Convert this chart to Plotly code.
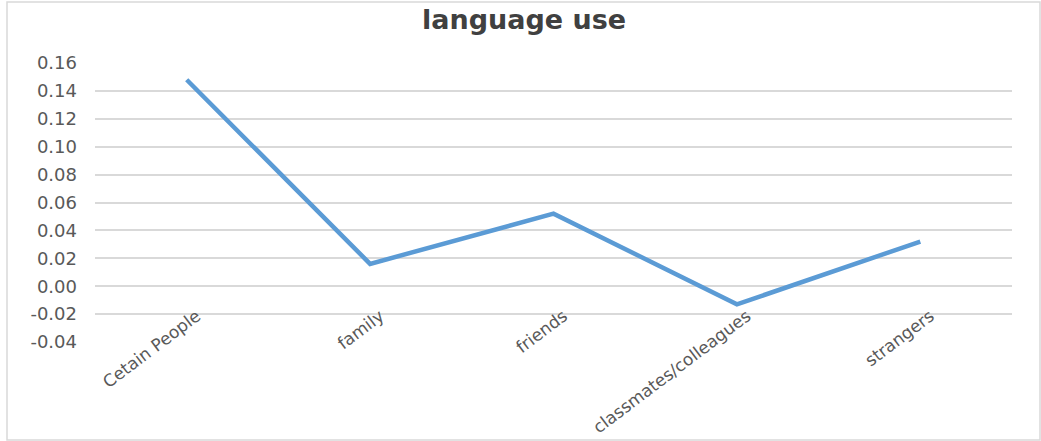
import plotly.graph_objects as go

categories = ["Cetain People", "family", "friends", "classmates/colleagues", "strangers"]
values = [0.148, 0.016, 0.052, -0.013, 0.032]
y_ticks = [-0.04, -0.02, 0.00, 0.02, 0.04, 0.06, 0.08, 0.10, 0.12, 0.14, 0.16]
y_tick_labels = ["-0.04", "-0.02", "0.00", "0.02", "0.04", "0.06", "0.08", "0.10", "0.12", "0.14", "0.16"]

W, H = 1041, 441
L, R, T, B = 95, 29, 63, 99
pw, ph = W - L - R, H - T - B
y_min, y_max = -0.04, 0.16

fig = go.Figure()
fig.add_trace(go.Scatter(
    x=categories, y=values, mode="lines",
    line=dict(color="#5B9BD5", width=4.5),
    showlegend=False,
))

def px_x(p):
    return (p - L) / pw

def px_y(p):
    return (H - B - p) / ph

FONT = "DejaVu Sans"

fig.update_layout(
    width=W, height=H,
    margin=dict(l=L, r=R, t=T, b=B, autoexpand=False),
    paper_bgcolor="white", plot_bgcolor="white",
    title=dict(text="<b>language use</b>", x=524 / W, xanchor="center",
               y=1 - 20 / H, yanchor="middle",
               font=dict(family=FONT, size=27, color="#404040")),
    xaxis=dict(range=[-0.5, 4.5], showgrid=False, showline=False, ticks="",
               anchor="free", position=(0 - y_min) / (y_max - y_min),
               automargin=False, ticklabelstandoff=16, ticklabelshift=10,
               tickangle=-37, tickfont=dict(family=FONT, size=17, color="#595959"),
               zeroline=False),
    yaxis=dict(range=[y_min, y_max], tickvals=y_ticks, ticktext=y_tick_labels,
               automargin=False,
               showgrid=True, gridcolor="#d9d9d9", gridwidth=1.5,
               zeroline=True, zerolinecolor="#d9d9d9", zerolinewidth=1.5,
               showline=False, ticks="", ticklabelstandoff=17,
               tickfont=dict(family=FONT, size=18, color="#595959")),
    shapes=[dict(type="rect", xref="paper", yref="paper",
                 x0=px_x(7), x1=px_x(1040), y0=px_y(440), y1=px_y(2),
                 line=dict(color="#d9d9d9", width=1.5), fillcolor="rgba(0,0,0,0)",
                 layer="below")],
)

fig.write_html("out.html")
